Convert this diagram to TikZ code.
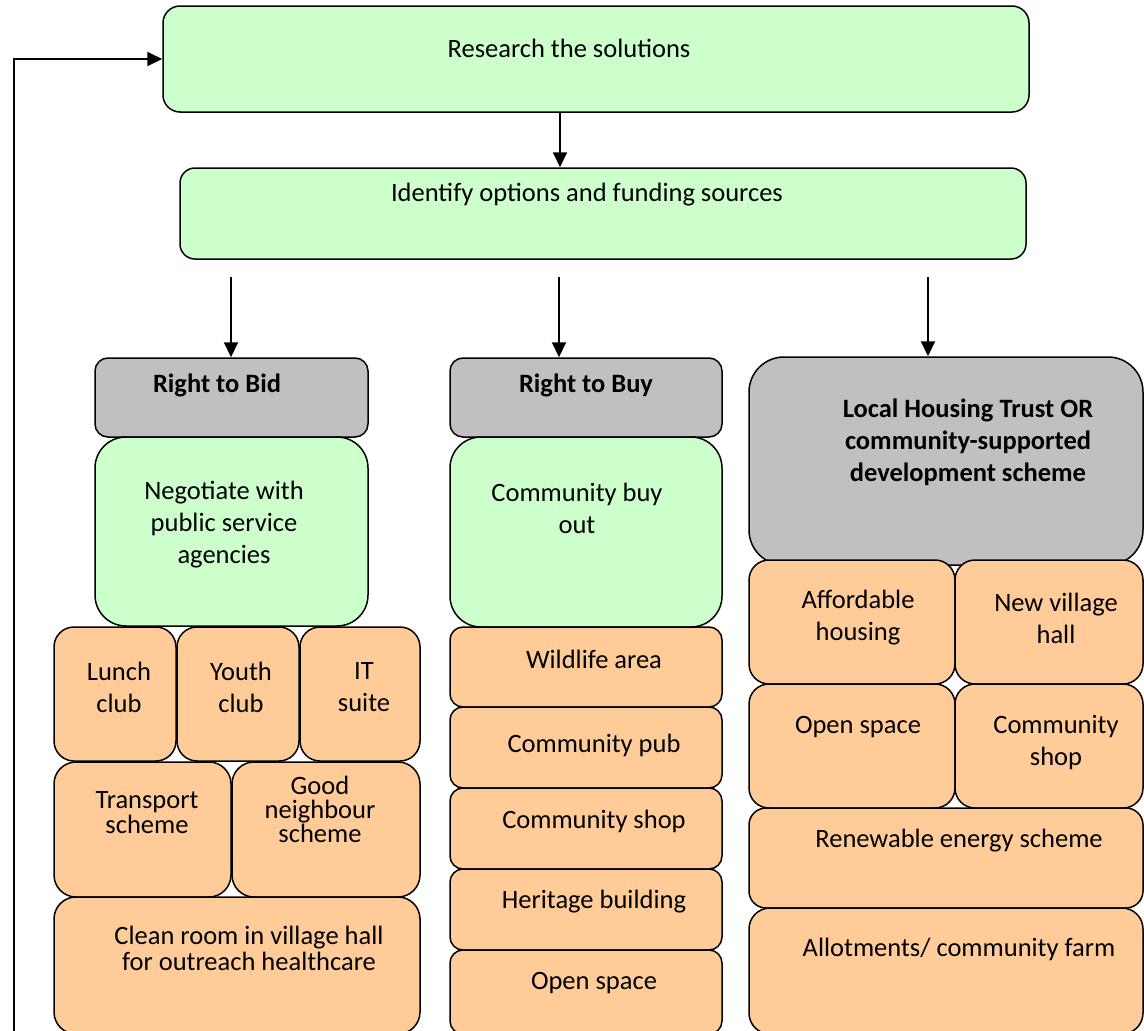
\documentclass[tikz,border=0pt]{standalone}
\usepackage{fontspec}
\setmainfont{Carlito}
\usetikzlibrary{arrows.meta}

\definecolor{c1}{RGB}{204,255,204}
\definecolor{c2}{RGB}{255,204,153}
\definecolor{c3}{RGB}{192,192,192}

\tikzset{
  bx/.style={draw=black,line width=1.5pt,inner sep=0pt},
  txt/.style={align=center,inner sep=0pt,font=\fontsize{26.5}{32}\selectfont},
  txb/.style={txt,font=\fontsize{26.5}{32}\selectfont\bfseries},
  txs/.style={txt,font=\fontsize{26.5}{25}\selectfont},
  arr/.style={line width=2pt,-{Triangle[length=15pt,width=14pt]}}
}

\begin{document}
\begin{tikzpicture}[x=1pt,y=-1pt]
      \useasboundingbox (0,0) rectangle (1144,1031);
      \clip (0,0) rectangle (1144,1031);

      % top boxes
      \node[bx,fill=c1,rounded corners=17pt,minimum width=866pt,minimum height=106pt] (research) at (596,59) {};
      \node[bx,fill=c1,rounded corners=15pt,minimum width=846pt,minimum height=91pt] (identify) at (603,213.5) {};

      % column 1: right to bid
      \node[bx,fill=c3,rounded corners=13pt,minimum width=273pt,minimum height=79pt] (bid) at (231.5,397.5) {};
      \node[bx,fill=c1,rounded corners=31pt,minimum width=273pt,minimum height=189pt] (negotiate) at (231.5,531.5) {};
      \node[bx,fill=c2,rounded corners=20pt,minimum width=122pt,minimum height=134pt] (lunch) at (115,694) {};
      \node[bx,fill=c2,rounded corners=20pt,minimum width=122pt,minimum height=134pt] (youth) at (238,694) {};
      \node[bx,fill=c2,rounded corners=20pt,minimum width=120pt,minimum height=134pt] (itsuite) at (360,694) {};
      \node[bx,fill=c2,rounded corners=22pt,minimum width=177pt,minimum height=135pt] (transport) at (142.5,829.5) {};
      \node[bx,fill=c2,rounded corners=22pt,minimum width=188pt,minimum height=135pt] (goodn) at (326,829.5) {};
      \node[bx,fill=c2,rounded corners=22pt,minimum width=366pt,minimum height=137pt] (clean) at (237,965.5) {};

      % column 2: right to buy
      \node[bx,fill=c3,rounded corners=13pt,minimum width=272pt,minimum height=79pt] (buy) at (586,397.5) {};
      \node[bx,fill=c1,rounded corners=31pt,minimum width=272pt,minimum height=190pt] (buyout) at (586,532) {};
      \node[bx,fill=c2,rounded corners=13pt,minimum width=272pt,minimum height=80pt] (wildlife) at (586,667) {};
      \node[bx,fill=c2,rounded corners=13pt,minimum width=272pt,minimum height=81pt] (pub) at (586,747.5) {};
      \node[bx,fill=c2,rounded corners=13pt,minimum width=272pt,minimum height=81pt] (shopa) at (586,828.5) {};
      \node[bx,fill=c2,rounded corners=13pt,minimum width=272pt,minimum height=81pt] (heritage) at (586,909.5) {};
      \node[bx,fill=c2,rounded corners=13pt,minimum width=272pt,minimum height=84pt] (opena) at (586,992) {};

      % column 3: housing trust
      \node[bx,fill=c3,rounded corners=35pt,minimum width=394pt,minimum height=208pt] (trust) at (946,461) {};
      \node[bx,fill=c2,rounded corners=20pt,minimum width=206pt,minimum height=124pt] (afford) at (852,622) {};
      \node[bx,fill=c2,rounded corners=20pt,minimum width=188pt,minimum height=124pt] (newhall) at (1049,622) {};
      \node[bx,fill=c2,rounded corners=20pt,minimum width=206pt,minimum height=124pt] (openb) at (852,746) {};
      \node[bx,fill=c2,rounded corners=20pt,minimum width=188pt,minimum height=124pt] (shopb) at (1049,746) {};
      \node[bx,fill=c2,rounded corners=17pt,minimum width=394pt,minimum height=100pt] (renew) at (946,858) {};
      \node[bx,fill=c2,rounded corners=21pt,minimum width=394pt,minimum height=126pt] (allot) at (946,971) {};

      % texts
      \node[txt] (research-t) at (569,48) {Research the solutions};
      \node[txt] (identify-t) at (587,195) {Identify options and funding sources};
      \node[txb] (bid-t) at (217,385) {Right to Bid};
      \node[txt] (negotiate-t) at (224,525) {Negotiate with\\public service\\agencies};
      \node[txt] (lunch-t) at (119,687.5) {Lunch\\club};
      \node[txt] (youth-t) at (241,687.5) {Youth\\club};
      \node[txt] (itsuite-t) at (364,687.5) {IT\\suite};
      \node[txs] (transport-t) at (147,812.5) {Transport\\scheme};
      \node[txs,font=\fontsize{26.5}{24}\selectfont] (goodn-t) at (320,809) {Good\\neighbour\\scheme};
      \node[txs,font=\fontsize{26.5}{26}\selectfont] (clean-t) at (249,948) {Clean room in village hall\\for outreach healthcare};
      \node[txb] (buy-t) at (586,385) {Right to Buy};
      \node[txt] (buyout-t) at (577,508) {Community buy\\out};
      \node[txt] (wildlife-t) at (594,659) {Wildlife area};
      \node[txt] (pub-t) at (594,745) {Community pub};
      \node[txt] (shopa-t) at (594,821) {Community shop};
      \node[txt] (heritage-t) at (594,902) {Heritage building};
      \node[txt] (opena-t) at (594,983) {Open space};
      \node[txb] (trust-t) at (968,442) {Local Housing Trust OR\\community-supported\\development scheme};
      \node[txt] (afford-t) at (858,618) {Affordable\\housing};
      \node[txt] (newhall-t) at (1056,618) {New village\\hall};
      \node[txt] (openb-t) at (858,727) {Open space};
      \node[txt] (shopb-t) at (1056,742.5) {Community\\shop};
      \node[txt] (renew-t) at (959,841) {Renewable energy scheme};
      \node[txt] (allot-t) at (959,949) {Allotments/ community farm};

      % arrows
      \coordinate (s1) at (231,277);
      \coordinate (s2) at (559,277);
      \coordinate (s3) at (928,277);
      \coordinate (fb) at (14,1040);
      \draw[arr] ([xshift=-36pt]research.south) -- ([xshift=-43pt]identify.north);%research-identify
      \draw[arr] (s1) -- (s1 |- bid.north);%bid
      \draw[arr] (s2) -- (s2 |- buy.north);%buy
      \draw[arr] (s3) -- (s3 |- trust.north);%trust
      \draw[arr] (fb) |- (research.west);%back to research
\end{tikzpicture}
\end{document}
